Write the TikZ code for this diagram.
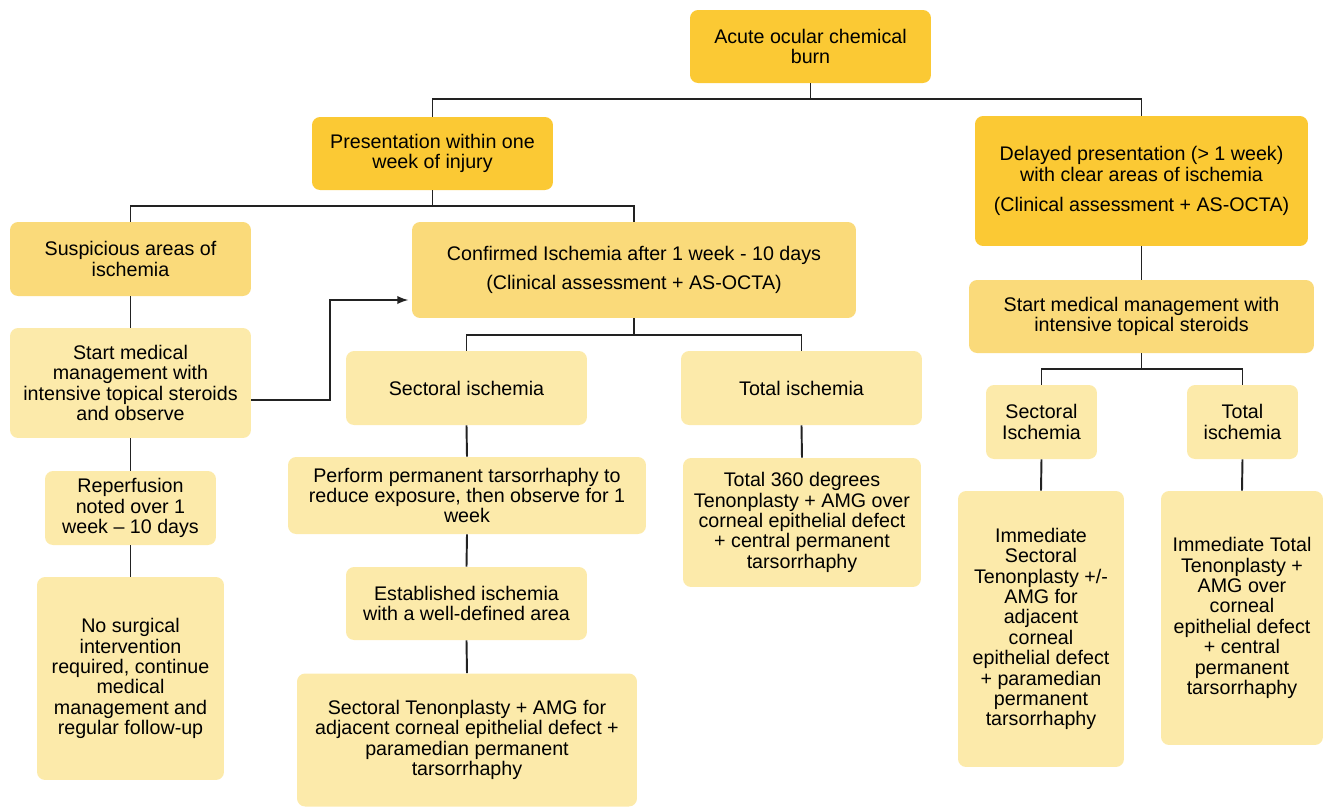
\documentclass[tikz,border=0pt]{standalone}
\usepackage{fontspec}
\setmainfont{Liberation Sans}
\usetikzlibrary{calc, positioning, shapes, arrows}
\definecolor{goldA}{RGB}{251,201,52}
\definecolor{goldB}{RGB}{250,218,122}
\definecolor{goldC}{RGB}{252,234,170}
\definecolor{wire}{RGB}{34,34,34}

\begin{document}
\begin{tikzpicture}[x=0.02cm, y=-0.02cm,
  box/.style={rounded corners=0.16cm, align=center, inner sep=0pt, font=\fontsize{11.2pt}{11.6pt}\selectfont},
  lvlA/.style={box, fill=goldA},
  lvlB/.style={box, fill=goldB},
  lvlC/.style={box, fill=goldC},
  wire/.style={draw=wire, line width=1.1pt}]
\useasboundingbox (0,0) rectangle (1323,806);
% top levels
\node[lvlA, minimum width=4.82cm, minimum height=1.46cm] (burn) at (810.5,46.5) {Acute ocular chemical\\burn};
\node[lvlA, minimum width=4.82cm, minimum height=1.46cm] (early) at (432.5,153.5) {Presentation within one\\week of injury};
\node[lvlA, minimum width=6.66cm, minimum height=2.6cm] (late) at (1141.5,181) {Delayed presentation (> 1 week)\\with clear areas of ischemia\\[0.2cm](Clinical assessment + AS-OCTA)};
% early branch
\node[lvlB, minimum width=4.82cm, minimum height=1.48cm] (susp) at (130.5,259) {Suspicious areas of\\ischemia};
\node[lvlB, minimum width=8.88cm, minimum height=1.92cm] (conf) at (634,270) {Confirmed Ischemia after 1 week - 10 days\\[0.18cm](Clinical assessment + AS-OCTA)};
\node[lvlC, minimum width=4.82cm, minimum height=2.2cm] (startl) at (130.5,383) {Start medical\\management with\\intensive topical steroids\\and observe};
\node[lvlC, minimum width=3.42cm, minimum height=1.48cm] (reperf) at (130.5,508) {Reperfusion\\noted over 1\\week -- 10 days};
\node[lvlC, minimum width=3.74cm, minimum height=4.06cm] (nosurg) at (130.5,678.5) {No surgical\\intervention\\required, continue\\medical\\management and\\regular follow-up};
\node[lvlC, minimum width=4.82cm, minimum height=1.48cm] (sect) at (466.5,388) {Sectoral ischemia};
\node[lvlC, minimum width=4.82cm, minimum height=1.48cm] (total) at (801.5,388) {Total ischemia};
\node[lvlC, minimum width=7.16cm, minimum height=1.54cm] (perform) at (467,495.5) {Perform permanent tarsorrhaphy to\\reduce exposure, then observe for 1\\week};
\node[lvlC, minimum width=4.82cm, minimum height=1.46cm] (estab) at (466.5,603.5) {Established ischemia\\with a well-defined area};
\node[lvlC, minimum width=6.8cm, minimum height=2.66cm] (tenon) at (467,740) {Sectoral Tenonplasty + AMG for\\adjacent corneal epithelial defect +\\paramedian permanent\\tarsorrhaphy};
\node[lvlC, minimum width=4.76cm, minimum height=2.58cm] (tot360) at (802,522.5) {Total 360 degrees\\Tenonplasty + AMG over\\corneal epithelial defect\\+ central permanent\\tarsorrhaphy};
% delayed branch
\node[lvlB, minimum width=6.9cm, minimum height=1.46cm] (startr) at (1141.5,316.5) {Start medical management with\\intensive topical steroids};
\node[lvlC, minimum width=2.22cm, minimum height=1.48cm] (sectr) at (1041.5,422) {Sectoral\\Ischemia};
\node[lvlC, minimum width=2.22cm, minimum height=1.48cm] (totr) at (1242.5,422) {Total\\ischemia};
\node[lvlC, minimum width=3.32cm, minimum height=5.52cm] (immsect) at (1041,629) {Immediate\\Sectoral\\Tenonplasty +/-\\AMG for\\adjacent\\corneal\\epithelial defect\\+ paramedian\\permanent\\tarsorrhaphy};
\node[lvlC, minimum width=3.24cm, minimum height=5.08cm] (immtot) at (1242,618) {Immediate Total\\Tenonplasty +\\AMG over\\corneal\\epithelial defect\\+ central\\permanent\\tarsorrhaphy};
% buses
\draw[wire] (burn.south) -- ++(0,16) coordinate (b1);
\draw[wire] (b1) -| (early.north) (b1) -| (late.north);
\draw[wire] (early.south) -- ++(0,16) coordinate (b2);
\draw[wire] (b2) -| (susp.north) (b2) -| (conf.north);
\draw[wire] (conf.south) -- ++(0,17) coordinate (b3);
\draw[wire] (b3) -| (sect.north) (b3) -| (total.north);
\draw[wire] (startr.south) -- ++(0,16) coordinate (b4);
\draw[wire] (b4) -| (sectr.north) (b4) -| (totr.north);
% straight links
\foreach \a/\b in {susp/startl, startl/reperf, reperf/nosurg, sect/perform, perform/estab, estab/tenon, total/tot360, late/startr, sectr/immsect, totr/immtot}
  \draw[wire] (\a.south) -- (\b.north);
\draw[wire, -latex] ([yshift=-0.34cm]startl.east) -- ++(79,0) |- ([yshift=-0.6cm,xshift=-2pt]conf.west);
\end{tikzpicture}
\end{document}
